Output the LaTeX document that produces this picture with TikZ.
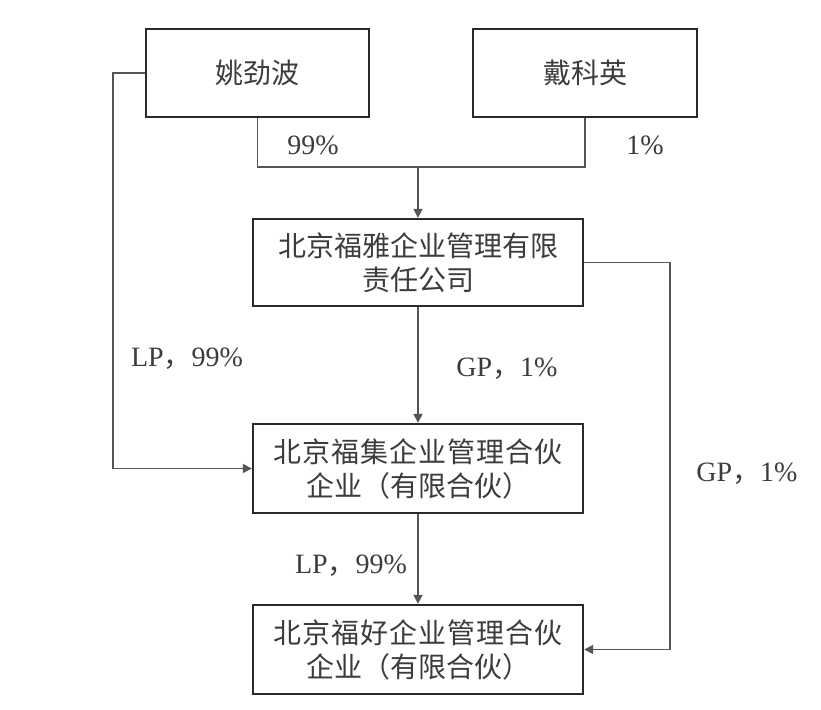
\documentclass[tikz,border=0pt]{standalone}
\usepackage{fontspec}
\setmainfont{Liberation Serif}
\newfontfamily\cjk{Noto Sans CJK SC}
\newfontfamily\cjkwide[LetterSpace=3.5]{Noto Sans CJK SC}
\usetikzlibrary{arrows.meta}
\definecolor{boxline}{HTML}{2A2A2A}
\definecolor{conn}{HTML}{555555}
\definecolor{txt}{HTML}{3C3C3C}
\begin{document}
\begin{tikzpicture}[x=1pt,y=-1pt,
  entity/.style={draw=boxline,line width=2.4pt,inner sep=0pt,align=center,
    text=txt,font=\fontsize{28}{34}\selectfont\cjk},
  link/.style={draw=conn,line width=1.7pt},
  arrowlink/.style={link,-{Triangle[length=9pt,width=9pt]}},
  lbl/.style={text=txt,font=\fontsize{28}{34}\selectfont,inner sep=0pt}]
\useasboundingbox (0,0) rectangle (821,709);
\node[entity,minimum width=223pt,minimum height=88pt] (a) at (257.5,73) {姚劲波};
\node[entity,minimum width=224pt,minimum height=88pt] (b) at (585,73) {戴科英};
\node[entity,minimum width=330pt,minimum height=87pt] (c) at (418,262.5) {北京福雅企业管理有限\\责任公司};
\node[entity,minimum width=330pt,minimum height=89pt] (d) at (418,468.5) {{\cjkwide 北京福集企业管理合伙}\\企业（有限合伙）};
\node[entity,minimum width=330pt,minimum height=89pt] (e) at (418,649.5) {{\cjkwide 北京福好企业管理合伙}\\企业（有限合伙）};
\coordinate (j) at (418,167);
\draw[link] (a.south) |- (b.south |- j) -- (b.south);
\draw[arrowlink] (j) -- (c.north);
\draw[arrowlink] (c.south) -- (d.north);
\draw[arrowlink] (d.south) -- (e.north);
\draw[arrowlink] (a.west) -- ++(-32,0) |- (d.west);
\draw[arrowlink] (c.east) -- ++(86,0) |- (e.east);
\node[lbl] (l1) at (313,145) {99\%};
\node[lbl] (l2) at (645,145) {1\%};
\node[lbl] (l3) at (187,359) {LP{\cjk ，}99\%};
\node[lbl] (l4) at (507,369) {GP{\cjk ，}1\%};
\node[lbl] (l5) at (747,474) {GP{\cjk ，}1\%};
\node[lbl] (l6) at (351,566) {LP{\cjk ，}99\%};
\end{tikzpicture}
\end{document}
